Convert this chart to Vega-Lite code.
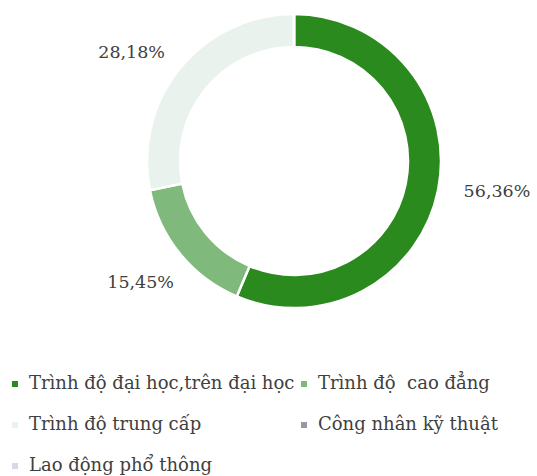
{
  "$schema": "https://vega.github.io/schema/vega-lite/v6.json",
  "width": 486,
  "height": 322,
  "autosize": "none",
  "padding": {"left": 51, "top": 0, "right": 0, "bottom": 154},
  "background": "white",
  "view": {"stroke": null},
  "data": {"values": [
    {"group": "Trình độ đại học,trên đại học", "value": 56.36, "label": "56,36%", "order": 1},
    {"group": "Trình độ\u00a0 cao đẳng", "value": 15.45, "label": "15,45%", "order": 2},
    {"group": "Trình độ trung cấp", "value": 28.18, "label": "28,18%", "order": 3},
    {"group": "Công nhân kỹ thuật", "value": 0, "label": "", "order": 4},
    {"group": "Lao động phổ thông", "value": 0, "label": "", "order": 5}
  ]},
  "encoding": {
    "theta": {"field": "value", "type": "quantitative", "stack": true},
    "order": {"field": "order", "type": "quantitative"}
  },
  "layer": [
    {
      "mark": {"type": "arc", "outerRadius": 147, "innerRadius": 114, "stroke": "white", "strokeWidth": 2.5},
      "encoding": {
        "color": {
          "field": "group",
          "type": "nominal",
          "sort": null,
          "scale": {
            "domain": ["Trình độ đại học,trên đại học", "Trình độ\u00a0 cao đẳng", "Trình độ trung cấp", "Công nhân kỹ thuật", "Lao động phổ thông"],
            "range": ["#2b8a1e", "#80b97c", "#e9f2ec", "#9b97a5", "#ddd6e6"]
          },
          "legend": {
            "title": null,
            "orient": "none",
            "direction": "horizontal",
            "legendX": -45,
            "legendY": 375,
            "columns": 2,
            "symbolType": "square",
            "symbolSize": 36,
            "symbolStrokeWidth": 0,
            "symbolOpacity": 1,
            "labelFont": "DejaVu Serif",
            "labelFontSize": 18,
            "labelColor": "#404040",
            "labelOffset": 5,
            "labelLimit": 400,
            "rowPadding": 23,
            "columnPadding": -6
          }
        }
      }
    },
    {
      "mark": {"type": "text", "radius": 202, "dx": 5, "dy": -9, "font": "DejaVu Serif", "fontSize": 17.5, "fill": "#404040"},
      "encoding": {
        "detail": {"field": "group", "type": "nominal"},
        "text": {"condition": {"test": "datum.order === 1", "field": "label"}, "value": ""}
      }
    },
    {
      "mark": {"type": "text", "radius": 202, "dx": 3, "dy": -6, "font": "DejaVu Serif", "fontSize": 17.5, "fill": "#404040"},
      "encoding": {
        "detail": {"field": "group", "type": "nominal"},
        "text": {"condition": {"test": "datum.order === 2", "field": "label"}, "value": ""}
      }
    },
    {
      "mark": {"type": "text", "radius": 202, "dx": -6, "dy": 20, "font": "DejaVu Serif", "fontSize": 17.5, "fill": "#404040"},
      "encoding": {
        "detail": {"field": "group", "type": "nominal"},
        "text": {"condition": {"test": "datum.order === 3", "field": "label"}, "value": ""}
      }
    }
  ]
}
